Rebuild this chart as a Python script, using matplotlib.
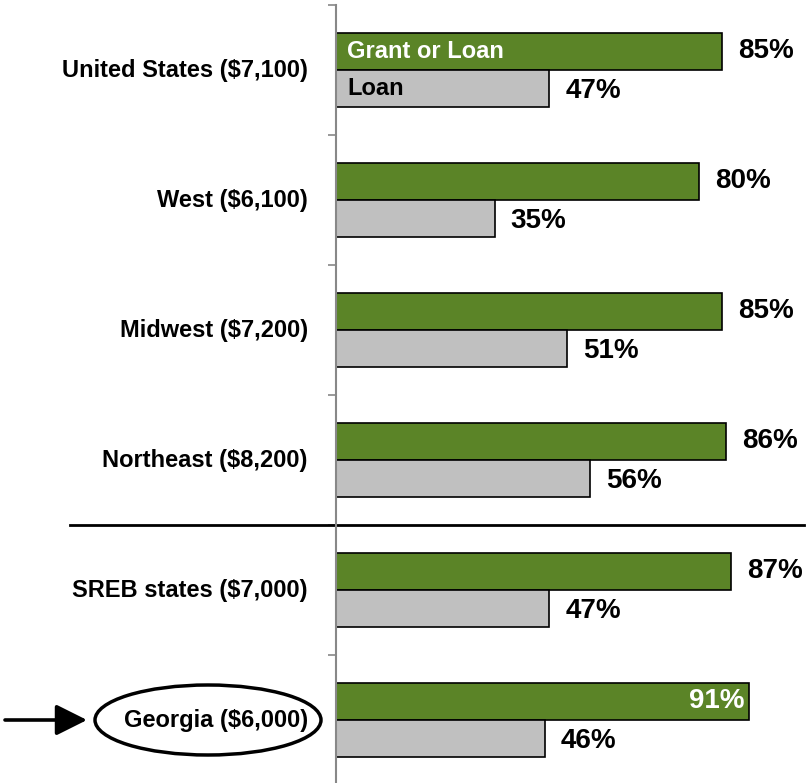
import matplotlib
matplotlib.use("Agg")
import matplotlib.pyplot as plt
import matplotlib.transforms as mtransforms
from matplotlib.patches import Ellipse, FancyArrowPatch

# data
regions = ["United States ($7,100)", "West ($6,100)", "Midwest ($7,200)",
           "Northeast ($8,200)", "SREB states ($7,000)", "Georgia ($6,000)"]
grant_or_loan = [85, 80, 85, 86, 87, 91]
loan = [47, 35, 51, 56, 47, 46]

green = "#5B8427"
grey = "#C0C0C0"
plt.rcParams["font.family"] = ["Liberation Sans", "DejaVu Sans"]
plt.rcParams["font.weight"] = "bold"

fig = plt.figure(figsize=(8.08, 7.83), dpi=100)
ax = fig.add_axes([336 / 808, 1 - 785 / 783, 1 - 336 / 808, 780 / 783])

h = 0.285
pos = list(range(len(regions)))
ax.barh([p - h / 2 for p in pos], grant_or_loan, height=h, color=green,
        edgecolor="black", linewidth=1.2)
ax.barh([p + h / 2 for p in pos], loan, height=h, color=grey,
        edgecolor="black", linewidth=1.2)

ax.set_xlim(0, 104)
ax.set_ylim(len(regions) - 0.5, -0.5)

for p, v in zip(pos, grant_or_loan):
    if v >= 90:
        ax.text(v - 1, p - h / 2, f"{v}%", ha="right", va="center",
                fontsize=20, color="white", fontweight="bold")
    else:
        ax.text(v + 3.5, p - h / 2, f"{v}%", ha="left", va="center",
                fontsize=20, fontweight="bold")
for p, v in zip(pos, loan):
    ax.text(v + 3.5, p + h / 2 + 0.02, f"{v}%", ha="left", va="center",
            fontsize=20, fontweight="bold")

# series names inside the first group
ax.text(2.5, -h / 2, "Grant or Loan", ha="left", va="center", fontsize=17,
        color="white", fontweight="bold")
ax.text(2.5, h / 2, "Loan", ha="left", va="center", fontsize=17,
        color="black", fontweight="bold")

# category labels
ax.set_yticks([p - 0.5 for p in pos] + [len(regions) - 0.5])
ax.set_yticklabels([])
for p, name in zip(pos, regions):
    ax.text(-6.2, p, name, ha="right", va="center", fontsize=17,
            fontweight="bold", clip_on=False)

ax.tick_params(axis="y", direction="out", length=6, width=1.2, color="#888888")
ax.set_xticks([])
for s in ["top", "right", "bottom"]:
    ax.spines[s].set_visible(False)
ax.spines["left"].set_color("#888888")
ax.spines["left"].set_linewidth(1.5)

# separator between regions and SREB
trans = mtransforms.blended_transform_factory(fig.transFigure, ax.transData)
ax.plot([70 / 808, 804 / 808], [3.5, 3.5], color="black", linewidth=2,
        transform=trans, clip_on=False)

# highlight Georgia
ell = Ellipse((208 / 808, 1 - 720 / 783), 226 / 808, 70 / 783,
              transform=fig.transFigure, fill=False, edgecolor="black",
              linewidth=2.5)
fig.add_artist(ell)
arrow = FancyArrowPatch((5 / 808, 1 - 720 / 783), (87 / 808, 1 - 720 / 783),
                        transform=fig.transFigure,
                        arrowstyle="-|>,head_length=1.9,head_width=0.95",
                        mutation_scale=10, color="black", linewidth=2.6,
                        shrinkA=0, shrinkB=0)
fig.add_artist(arrow)

fig.savefig("out.png", dpi=100)
